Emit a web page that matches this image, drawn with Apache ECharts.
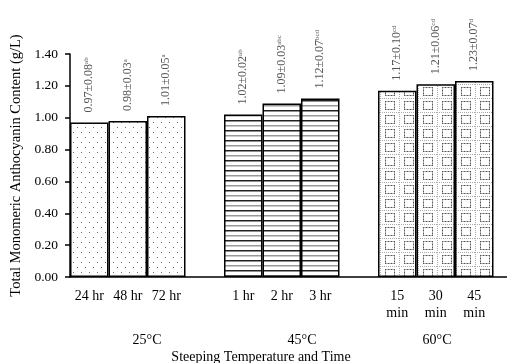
<!DOCTYPE html>
<html>
<head>
<meta charset="utf-8">
<script src="https://cdn.jsdelivr.net/npm/echarts@6/dist/echarts.min.js"></script>
<style>
  html, body { margin: 0; padding: 0; background: #fff; }
  #chart { width: 507px; height: 363px; }
</style>
</head>
<body>
<div id="chart"></div>
<script>
// Steeping conditions (blank slots separate the temperature groups)
const categories = ['24 hr', '48 hr', '72 hr', '', '1 hr', '2 hr', '3 hr', '', '15\nmin', '30\nmin', '45\nmin'];
const groupOf    = [0, 0, 0, -1, 1, 1, 1, -1, 2, 2, 2];
const means      = [0.97, 0.98, 1.01, null, 1.02, 1.09, 1.12, null, 1.17, 1.21, 1.23];
const sds        = [0.08, 0.03, 0.05, null, 0.02, 0.03, 0.07, null, 0.10, 0.06, 0.07];
const letters    = ['ab', 'a', 'a', '', 'ab', 'abc', 'bcd', '', 'cd', 'cd', 'd'];
const groupNames = ['25°C', '45°C', '60°C'];
const yTicks     = { min: 0, max: 1.4, interval: 0.2 };

const serif = '"Liberation Serif", "DejaVu Serif", serif';

// Fill patterns for the three temperature groups
function makeTile(w, h, draw) {
  const c = document.createElement('canvas');
  c.width = w; c.height = h;
  const ctx = c.getContext('2d');
  ctx.fillStyle = '#fff';
  ctx.fillRect(0, 0, w, h);
  draw(ctx);
  return c;
}
const dotsTile = makeTile(8, 10, ctx => {
  ctx.fillStyle = '#666';
  ctx.fillRect(1, 2, 1, 1);
  ctx.fillRect(5, 7, 1, 1);
});
const linesTile = makeTile(4, 10, ctx => {
  ctx.fillStyle = '#222';
  ctx.fillRect(0, 0, 4, 1.5);
  ctx.fillStyle = '#999';
  ctx.fillRect(0, 5, 4, 1.5);
});
const boxTile = makeTile(19, 14, ctx => {
  ctx.fillStyle = '#aaa';
  for (let x = 0; x < 19; x += 2) ctx.fillRect(x, 0, 1, 1);
  for (let y = 0; y < 14; y += 2) ctx.fillRect(0, y, 1, 1);
  ctx.fillStyle = '#555';
  for (let x = 5; x <= 14; x += 1.5) { ctx.fillRect(x, 3, 1, 1); ctx.fillRect(x, 11, 1, 1); }
  for (let y = 3; y <= 11; y += 1.5) { ctx.fillRect(5, y, 1, 1); ctx.fillRect(14, y, 1, 1); }
});
const groupFills = [dotsTile, linesTile, boxTile].map(img => ({ image: img, repeat: 'repeat' }));

const barData = means.map((v, i) => (v === null ? null : {
  value: v,
  itemStyle: { color: groupFills[groupOf[i]] }
}));

const chart = echarts.init(document.getElementById('chart'), null, { renderer: 'canvas' });

const groupText = (text, x, y) => ({
  type: 'text', x, y,
  style: { text, font: '14px ' + serif, fill: '#000', textAlign: 'center', textVerticalAlign: 'middle' }
});

chart.setOption({
  animation: false,
  backgroundColor: '#fff',
  grid: [
    { left: 70, right: 13.5, top: 54, bottom: 86, containLabel: false },
    // base line running on past the last bar
    { left: 70, right: 0, top: 54, bottom: 86, containLabel: false }
  ],
  xAxis: [{
    type: 'category',
    gridIndex: 0,
    data: categories,
    boundaryGap: true,
    axisLine: { show: false },
    axisTick: { show: false },
    axisLabel: {
      interval: 0,
      margin: 11,
      color: '#000',
      fontFamily: serif,
      fontSize: 14,
      lineHeight: 17
    }
  }, {
    type: 'value',
    gridIndex: 1,
    min: 0,
    max: 1,
    axisLine: { show: true, lineStyle: { color: '#000', width: 1.5 } },
    axisTick: { show: false },
    axisLabel: { show: false },
    splitLine: { show: false }
  }],
  yAxis: [{
    type: 'value',
    gridIndex: 0,
    min: yTicks.min,
    max: yTicks.max,
    interval: yTicks.interval,
    name: 'Total Monomeric Anthocyanin Content (g/L)',
    nameLocation: 'middle',
    nameGap: 46,
    nameTextStyle: { color: '#000', fontFamily: serif, fontSize: 14.5 },
    axisLine: { show: true, lineStyle: { color: '#000', width: 1.5 } },
    axisTick: { show: true, length: 5, lineStyle: { color: '#000', width: 1.5 } },
    splitLine: { show: false },
    axisLabel: {
      margin: 12,
      color: '#000',
      fontFamily: serif,
      fontSize: 13.5,
      formatter: v => v.toFixed(2)
    }
  }, {
    type: 'value',
    gridIndex: 1,
    min: 0,
    max: 1,
    show: false
  }],
  series: [{
    type: 'bar',
    xAxisIndex: 0,
    yAxisIndex: 0,
    data: barData,
    barCategoryGap: 0,
    itemStyle: { borderColor: '#000', borderWidth: 1.5 },
    label: {
      show: true,
      position: 'top',
      rotate: 90,
      align: 'left',
      verticalAlign: 'middle',
      distance: 10,
      formatter: p => '{v|' + means[p.dataIndex].toFixed(2) + '±' + sds[p.dataIndex].toFixed(2) + '}{s|' + letters[p.dataIndex] + '}',
      rich: {
        v: { fontFamily: serif, fontSize: 12, color: '#555' },
        s: { fontFamily: serif, fontSize: 7, color: '#555', verticalAlign: 'top', padding: [0, 0, 6, 0] }
      }
    }
  }],
  graphic: [
    groupText(groupNames[0], 147, 340),
    groupText(groupNames[1], 302, 340),
    groupText(groupNames[2], 437, 340),
    groupText('Steeping Temperature and Time', 261, 357)
  ]
});
</script>
</body>
</html>
